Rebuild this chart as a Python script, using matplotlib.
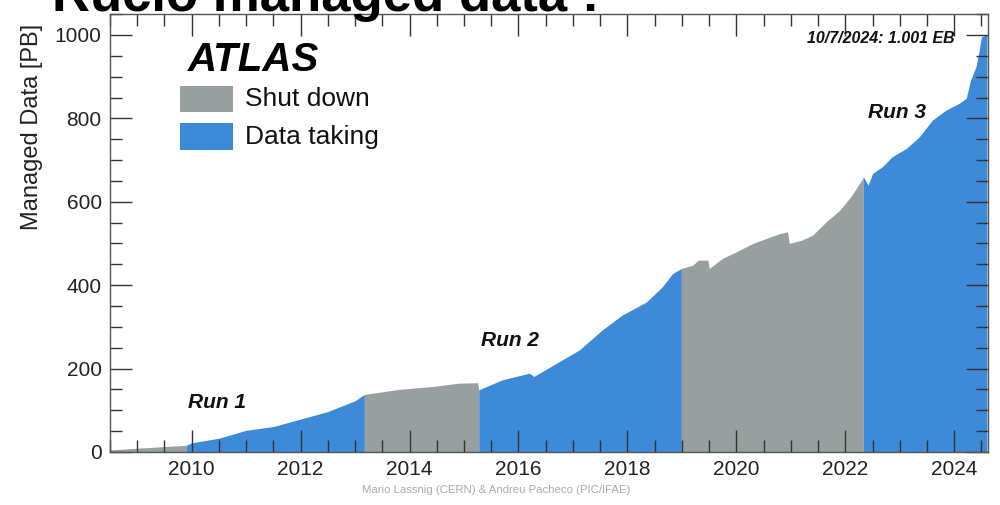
import matplotlib
matplotlib.use("Agg")
import matplotlib.pyplot as plt
from matplotlib.patches import Rectangle
from matplotlib.ticker import MultipleLocator
import numpy as np

plt.rcParams['font.family'] = ['Liberation Sans', 'DejaVu Sans']

# ---- data ----
years = [2008.50, 2009.00, 2009.50, 2009.90, 2010.00, 2010.50, 2011.00, 2011.50,
         2012.00, 2012.50, 2013.00, 2013.17, 2013.80, 2014.42, 2014.90, 2015.25,
         2015.27, 2015.70, 2016.20, 2016.28, 2016.70, 2017.12, 2017.54, 2017.90,
         2018.35, 2018.64, 2018.83, 2018.99, 2019.20, 2019.30, 2019.48, 2019.50,
         2019.56, 2019.74, 2020.00, 2020.30, 2020.55, 2020.80, 2020.94, 2020.97,
         2021.20, 2021.40, 2021.65, 2021.90, 2022.10, 2022.30, 2022.33, 2022.42,
         2022.50, 2022.68, 2022.86, 2023.12, 2023.36, 2023.60, 2023.85, 2024.09,
         2024.22, 2024.30, 2024.40, 2024.46, 2024.50, 2024.60]
managed_pb = [5, 9, 13, 16, 22, 33, 52, 61,
              79, 97, 123, 138, 150, 157, 165, 166,
              149, 173, 189, 181, 213, 245, 293, 328,
              360, 396, 428, 440, 448, 460, 460, 440,
              446, 464, 480, 500, 512, 524, 528, 500,
              508, 520, 552, 580, 612, 652, 660, 640,
              668, 684, 708, 728, 756, 796, 820, 836,
              848, 892, 924, 964, 996, 1001]

period_starts = [2008.50, 2009.90, 2013.17, 2015.27, 2018.99, 2022.33]
period_ends   = [2009.90, 2013.17, 2015.27, 2018.99, 2022.33, 2024.60]
period_kind   = ["Shut down", "Data taking", "Shut down", "Data taking", "Shut down", "Data taking"]

colors = {"Shut down": "#97a09e", "Data taking": "#3c8ad8"}

x = np.array(years)
y = np.array(managed_pb)

fig = plt.figure(figsize=(10, 5.05), dpi=100)
ax = fig.add_axes([0.110, 0.105, 0.878, 0.867])

for s, e, k in zip(period_starts, period_ends, period_kind):
    m = (x >= s - 1e-9) & (x <= e + 1e-9)
    ax.fill_between(x[m], 0, y[m], color=colors[k], linewidth=0)

ax.set_xlim(2008.5, 2024.62)
ax.set_ylim(0, 1050)
ax.xaxis.set_major_locator(MultipleLocator(2))
ax.xaxis.set_minor_locator(MultipleLocator(0.5))
ax.yaxis.set_major_locator(MultipleLocator(200))
ax.yaxis.set_minor_locator(MultipleLocator(50))
ax.tick_params(which='both', direction='in', top=True, right=True, color='#333333', width=1.0)
ax.tick_params(which='major', length=16, labelsize=15, pad=6, labelcolor='#222222')
ax.tick_params(which='minor', length=8.5)
for sp in ax.spines.values():
    sp.set_color('#555555')
    sp.set_linewidth(1.0)

def afr(px, py):
    return ((px - 110) / 878.0, (452 - py) / 438.0)

# legend (manual, ROOT style)
gx0, gy0 = afr(180, 112)
gx1, gy1 = afr(233, 86)
ax.add_patch(Rectangle((gx0, gy0), gx1 - gx0, gy1 - gy0, transform=ax.transAxes,
                       facecolor=colors["Shut down"], edgecolor='none'))
bx0, by0 = afr(180, 150)
bx1, by1 = afr(233, 123)
ax.add_patch(Rectangle((bx0, by0), bx1 - bx0, by1 - by0, transform=ax.transAxes,
                       facecolor=colors["Data taking"], edgecolor='none'))
tx, ty = afr(245, 99)
ax.text(tx, ty, "Shut down", transform=ax.transAxes, fontsize=19, va='center', ha='left', color='#111111')
tx, ty = afr(245, 137)
ax.text(tx, ty, "Data taking", transform=ax.transAxes, fontsize=19, va='center', ha='left', color='#111111')

tx, ty = afr(188, 60)
ax.text(tx, ty, "ATLAS", transform=ax.transAxes, fontsize=29, fontweight='bold',
        fontstyle='italic', va='center', ha='left', color='black')

for label, (px, py) in [("Run 1", (217, 403)), ("Run 2", (510, 340)), ("Run 3", (897, 112))]:
    tx, ty = afr(px, py)
    ax.text(tx, ty, label, transform=ax.transAxes, fontsize=15, fontweight='bold',
            fontstyle='italic', va='center', ha='center', color='#111111')

tx, ty = afr(955, 38)
ax.text(tx, ty, "10/7/2024: 1.001 EB", transform=ax.transAxes, fontsize=11.5, fontweight='bold',
        fontstyle='italic', va='center', ha='right', color='#111111')

fig.text(32 / 1000, 1 - 127 / 505, "Managed Data [PB]", rotation=90, fontsize=17,
         ha='center', va='center', color='#222222')

fig.text(0.496, 1 - 490 / 505, "Mario Lassnig (CERN) & Andreu Pacheco (PIC/IFAE)",
         fontsize=8.2, ha='center', va='center', color='#aaaaaa')

fig.text(52 / 1000, 1 - 11 / 505, "Rucio managed data :", fontsize=38, fontweight='bold',
         ha='left', va='baseline', color='black')

fig.savefig("out.png", dpi=100)
